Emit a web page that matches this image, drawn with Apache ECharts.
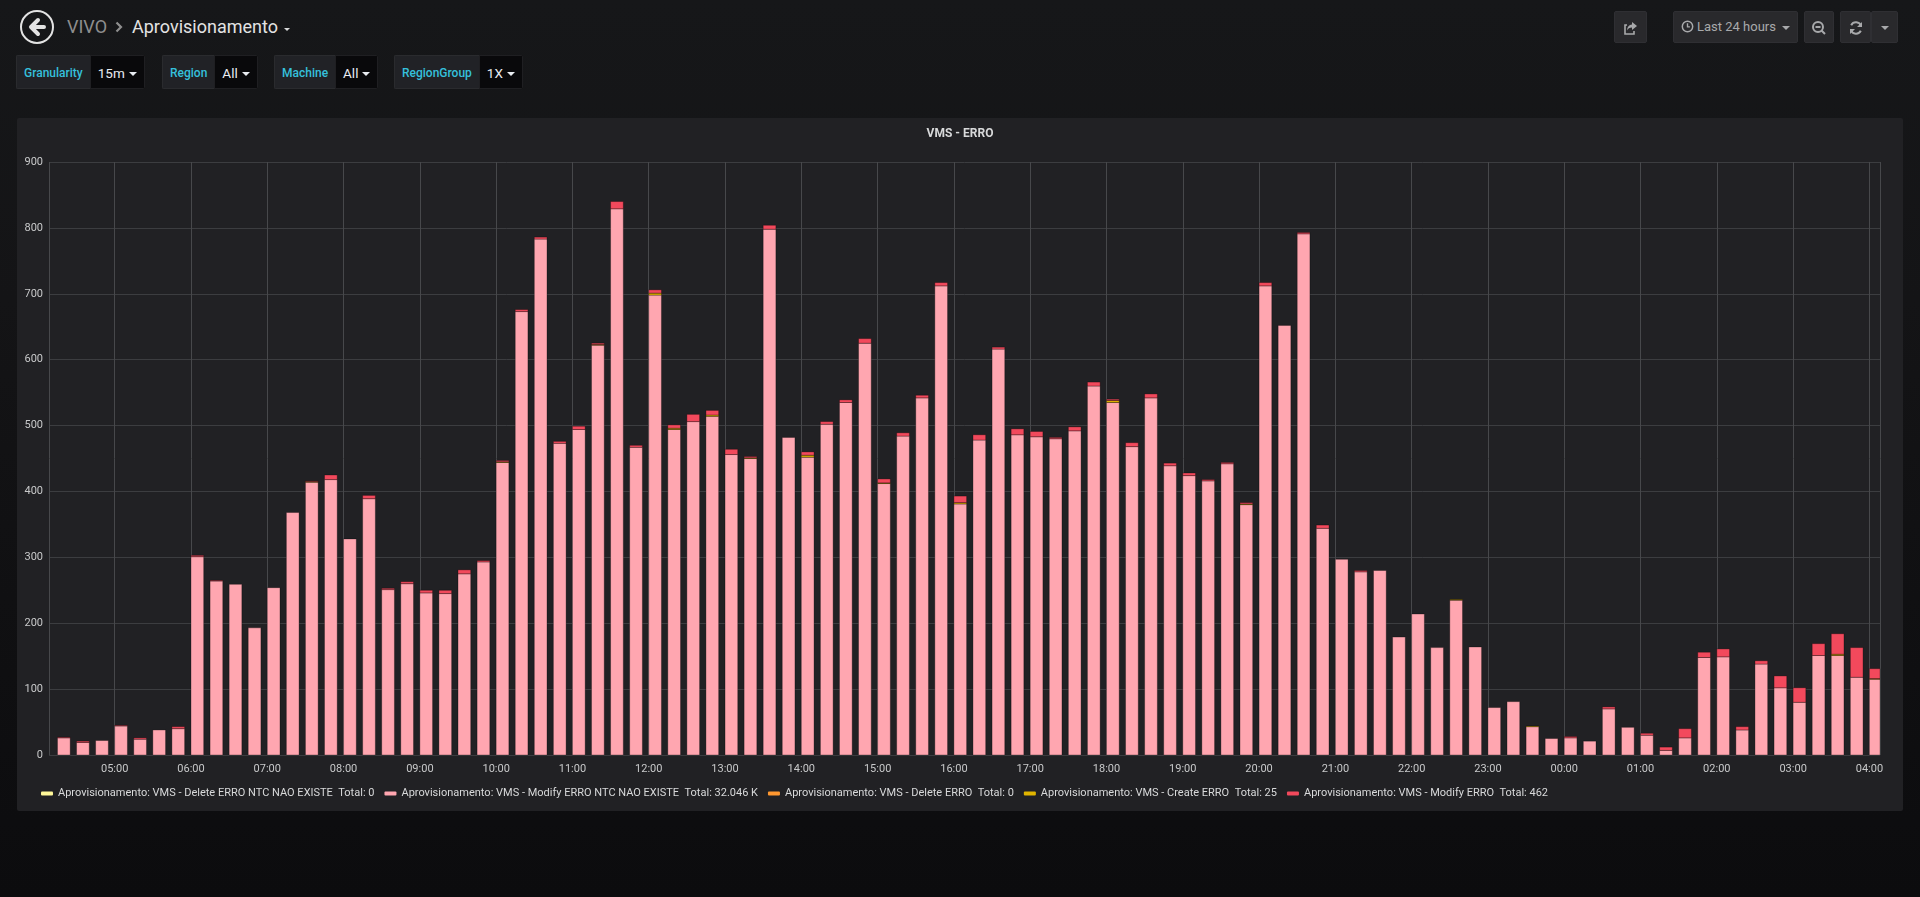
<!DOCTYPE html>
<html>
<head>
<meta charset="utf-8">
<title>Aprovisionamento - VMS - ERRO</title>
<script src="https://cdn.jsdelivr.net/npm/echarts@6/dist/echarts.min.js"></script>
<style>
  html, body { margin: 0; padding: 0; }
  body {
    width: 1920px; height: 897px; overflow: hidden; position: relative;
    background: linear-gradient(#161719 0px, #141416 300px, #0c0c0e 897px);
    font-family: Roboto, "Helvetica Neue", Arial, sans-serif;
  }
  .abs { position: absolute; }
  .back {
    left: 20px; top: 10px; width: 30px; height: 30px;
    border: 2px solid #e3e3e3; border-radius: 50%;
  }
  .crumb { top: 14px; height: 26px; line-height: 26px; font-size: 18px; white-space: nowrap; }
  .vivo { left: 67px; color: #8e8e8e; }
  .dash { left: 132px; color: #e3e3e3; }
  .caret {
    display: inline-block; width: 0; height: 0; vertical-align: middle;
    border-left: 4px solid transparent; border-right: 4px solid transparent;
    border-top: 4px solid #d8d9da;
  }
  .var { top: 55px; height: 34px; display: flex; border-radius: 2px; overflow: hidden; }
  .var .lbl {
    background: #212226; color: #35c0dc; font-size: 12px; font-weight: 500;
    line-height: 34px; padding: 0 7px; border: 1px solid #2a2b2e; border-right: none;
    box-sizing: border-box;
  }
  .var .val {
    background: #09090b; color: #e9edf2; font-size: 13.5px; line-height: 34px;
    padding: 0 7px; border: 1px solid #1f1f22; box-sizing: border-box; white-space: nowrap;
  }
  .var .val .caret { margin-left: 4px; border-top-color: #e9edf2; }
  .btn {
    top: 11px; height: 32px; background: #29292c; border: 1px solid #2f2f33;
    box-sizing: border-box; border-radius: 2px; color: #a8a9ab; font-size: 13px;
    line-height: 30px; text-align: center;
  }
  .btn svg { vertical-align: middle; }
  #panel {
    left: 17px; top: 118px; width: 1886px; height: 693px;
    background: #212124; border-radius: 2px;
  }
  #chart { width: 1886px; height: 693px; }
</style>
</head>
<body>

<div class="abs back">
  <svg width="30" height="30" viewBox="0 0 30 30">
    <path d="M16 8 L9 15 L16 22 M9.5 15 L22 15" stroke="#e3e3e3" stroke-width="4" fill="none" stroke-linecap="round" stroke-linejoin="round"/>
  </svg>
</div>
<div class="abs crumb vivo">VIVO</div>
<svg class="abs" style="left:114px; top:21px" width="10" height="12" viewBox="0 0 10 12">
  <path d="M2.5 1.5 L7 6 L2.5 10.5" stroke="#8e8e8e" stroke-width="2.2" fill="none"/>
</svg>
<div class="abs crumb dash">Aprovisionamento</div>
<span class="abs caret" style="left:284px; top:28px; border-left-width:3px; border-right-width:3px; border-top-width:3px"></span>

<div class="abs var" style="left:16px"><div class="lbl">Granularity</div><div class="val">15m<span class="caret"></span></div></div>
<div class="abs var" style="left:162px"><div class="lbl">Region</div><div class="val">All<span class="caret"></span></div></div>
<div class="abs var" style="left:274px"><div class="lbl">Machine</div><div class="val">All<span class="caret"></span></div></div>
<div class="abs var" style="left:394px"><div class="lbl">RegionGroup</div><div class="val">1X<span class="caret"></span></div></div>

<div class="abs btn" style="left:1614px; width:33px">
  <svg width="16" height="16" viewBox="0 0 16 16">
    <path d="M9 2 L14 6 L9 10 V7.5 C6.5 7.5 5 8.5 4 10.5 C4.3 7 6 5 9 4.6 Z" fill="#a8a9ab"/>
    <path d="M11 11 V14 H2 V5 H4" stroke="#a8a9ab" stroke-width="1.6" fill="none"/>
  </svg>
</div>
<div class="abs btn" style="left:1673px; width:125px">
  <svg width="13" height="13" viewBox="0 0 14 14" style="margin-top:-2px">
    <circle cx="7" cy="7" r="5.6" stroke="#a8a9ab" stroke-width="1.6" fill="none"/>
    <path d="M7 3.6 V7.4 H9.6" stroke="#a8a9ab" stroke-width="1.5" fill="none"/>
  </svg>
  Last 24 hours <span class="caret" style="margin-left:3px;border-top-color:#a8a9ab"></span>
</div>
<div class="abs btn" style="left:1804px; width:30px">
  <svg width="16" height="16" viewBox="0 0 16 16">
    <circle cx="7" cy="7" r="5" stroke="#a8a9ab" stroke-width="2" fill="none"/>
    <path d="M4.5 7 H9.5 M10.5 10.5 L14 14" stroke="#a8a9ab" stroke-width="2" fill="none"/>
  </svg>
</div>
<div class="abs btn" style="left:1840px; width:31px">
  <svg width="16" height="16" viewBox="0 0 16 16">
    <path d="M13 6 A5.3 5.3 0 0 0 3.2 5.2 M3 10 A5.3 5.3 0 0 0 12.8 10.8" stroke="#a8a9ab" stroke-width="2" fill="none"/>
    <path d="M14 2 V7 H9 Z M2 14 V9 H7 Z" fill="#a8a9ab"/>
  </svg>
</div>
<div class="abs btn" style="left:1871px; width:27px"><span class="caret" style="border-top-color:#a8a9ab"></span></div>

<div id="panel" class="abs"><div id="chart"></div></div>

<script>
// 15m buckets, first bucket 04:15, last 04:00 next day (96 buckets)
const firstBucket = new Date(2019, 5, 10, 4, 15).getTime();
const bucketMs = 15 * 60 * 1000;
const rangeStart = new Date(2019, 5, 10, 4, 8, 20).getTime();
const rangeEnd = rangeStart + 24 * 3600 * 1000;
const barSpan = 10 * 60 * 1000;

const seriesNames = [
  'Aprovisionamento: VMS - Delete ERRO NTC NAO EXISTE',
  'Aprovisionamento: VMS - Modify ERRO NTC NAO EXISTE',
  'Aprovisionamento: VMS - Delete ERRO',
  'Aprovisionamento: VMS - Create ERRO',
  'Aprovisionamento: VMS - Modify ERRO'
];
const seriesColors = ['#FFF899', '#FFA6B0', '#FF9830', '#E0B400', '#F2495C'];
const legendTotals = ['0', '32.046 K', '0', '25', '462'];

const deleteNtc = new Array(96).fill(0);
const deleteErro = new Array(96).fill(0);

const modifyNtc = [
  26, 19, 22, 44, 24, 38, 40, 301, 264, 259, 193, 254, 368, 414, 418, 328,
  389, 251, 260, 246, 245, 275, 293, 444, 673, 783, 473, 494, 622, 829, 467, 698,
  494, 506, 514, 456, 450, 798, 482, 452, 502, 535, 625, 412, 484, 542, 712, 381,
  478, 616, 486, 483, 480, 492, 560, 535, 468, 542, 439, 424, 416, 442, 380, 712,
  652, 791, 344, 297, 278, 280, 179, 214, 163, 235, 164, 72, 81, 43, 25, 26,
  21, 70, 42, 30, 7, 26, 148, 149, 38, 138, 102, 80, 151, 151, 118, 115
];
const createErro = [
  0, 0, 0, 0, 0, 0, 0, 0, 0, 0, 0, 0, 0, 1, 0, 0,
  0, 0, 0, 0, 0, 0, 0, 1, 0, 0, 0, 0, 1, 0, 0, 3,
  2, 0, 2, 0, 1, 0, 0, 3, 0, 0, 0, 1, 0, 0, 0, 2,
  0, 0, 0, 0, 0, 0, 0, 3, 0, 0, 0, 0, 0, 0, 1, 0,
  0, 0, 0, 0, 0, 0, 0, 0, 0, 1, 0, 0, 0, 1, 0, 0,
  0, 0, 0, 0, 0, 0, 0, 0, 0, 0, 0, 0, 0, 2, 0, 1
];
const modifyErro = [
  1, 2, 0, 1, 2, 0, 3, 2, 1, 0, 0, 0, 0, 1, 7, 0,
  5, 2, 3, 4, 5, 6, 2, 2, 3, 3, 3, 5, 2, 11, 3, 5,
  5, 11, 7, 8, 2, 6, 0, 5, 4, 4, 7, 6, 5, 4, 5, 10,
  8, 3, 9, 8, 2, 6, 6, 2, 6, 6, 4, 4, 2, 2, 2, 5,
  0, 2, 5, 0, 2, 0, 0, 0, 0, 0, 0, 0, 0, 0, 0, 2,
  0, 3, 0, 3, 5, 14, 8, 12, 5, 5, 18, 22, 18, 31, 45, 15
];

const stackOrder = [deleteNtc, modifyNtc, deleteErro, createErro, modifyErro];

// build [time, base, top] items, stacked in legend order
const base = new Array(96).fill(0);
const stackedData = stackOrder.map(function (values) {
  return values.map(function (v, i) {
    const item = [firstBucket + i * bucketMs, base[i], base[i] + v];
    base[i] += v;
    return item;
  });
});

function renderBar(params, api) {
  const t = api.value(0);
  const lo = api.value(1);
  const hi = api.value(2);
  if (hi <= lo) return null;
  const p0 = api.coord([t, hi]);
  const p1 = api.coord([t + barSpan, lo]);
  const shape = echarts.graphic.clipRectByRect({
    x: p0[0], y: p0[1], width: p1[0] - p0[0], height: p1[1] - p0[1]
  }, params.coordSys);
  if (!shape) return null;
  return {
    type: 'rect',
    shape: shape,
    style: { fill: api.visual('color'), stroke: 'rgba(0,0,0,0.3)', lineWidth: 1 }
  };
}

var chartDom = document.getElementById('chart');
var myChart = echarts.init(chartDom, null, { renderer: 'canvas' });

let option = {
  backgroundColor: 'transparent',
  animation: false,
  textStyle: { fontFamily: 'Roboto, "Helvetica Neue", Arial, sans-serif' },
  title: {
    text: 'VMS - ERRO',
    left: 'center',
    top: 5,
    textStyle: { color: '#d8d9da', fontSize: 12, fontWeight: 'bold' }
  },
  grid: { left: 32, right: 23, top: 44, bottom: 56, outerBoundsMode: 'none' },
  legend: {
    left: 19,
    top: 665,
    icon: 'roundRect',
    itemWidth: 12,
    itemHeight: 4,
    itemGap: 10,
    data: seriesNames,
    formatter: function (name) {
      return name + '  Total: ' + legendTotals[seriesNames.indexOf(name)];
    },
    textStyle: { color: '#d8d9da', fontSize: 11 }
  },
  xAxis: {
    type: 'time',
    min: rangeStart,
    max: rangeEnd,
    minInterval: 3600 * 1000,
    maxInterval: 3600 * 1000,
    axisLine: { show: false },
    axisTick: { show: false },
    axisLabel: {
      color: '#c8c9ca',
      fontSize: 11,
      margin: 9,
      hideOverlap: false,
      formatter: function (v) { return echarts.time.format(v, '{HH}:{mm}', false); }
    },
    splitLine: { show: true, lineStyle: { color: '#47484b', width: 1 } }
  },
  yAxis: {
    type: 'value',
    min: 0,
    max: 900,
    interval: 100,
    axisLine: { show: false },
    axisTick: { show: false },
    axisLabel: { color: '#c8c9ca', fontSize: 11, margin: 6 },
    splitLine: { lineStyle: { color: '#3c3d40', width: 1 } }
  },
  series: seriesNames.map(function (name, k) {
    return {
      name: name,
      type: 'custom',
      renderItem: renderBar,
      itemStyle: { color: seriesColors[k] },
      encode: { x: 0, y: [1, 2] },
      data: stackedData[k]
    };
  })
};

option && myChart.setOption(option);
</script>
</body>
</html>
